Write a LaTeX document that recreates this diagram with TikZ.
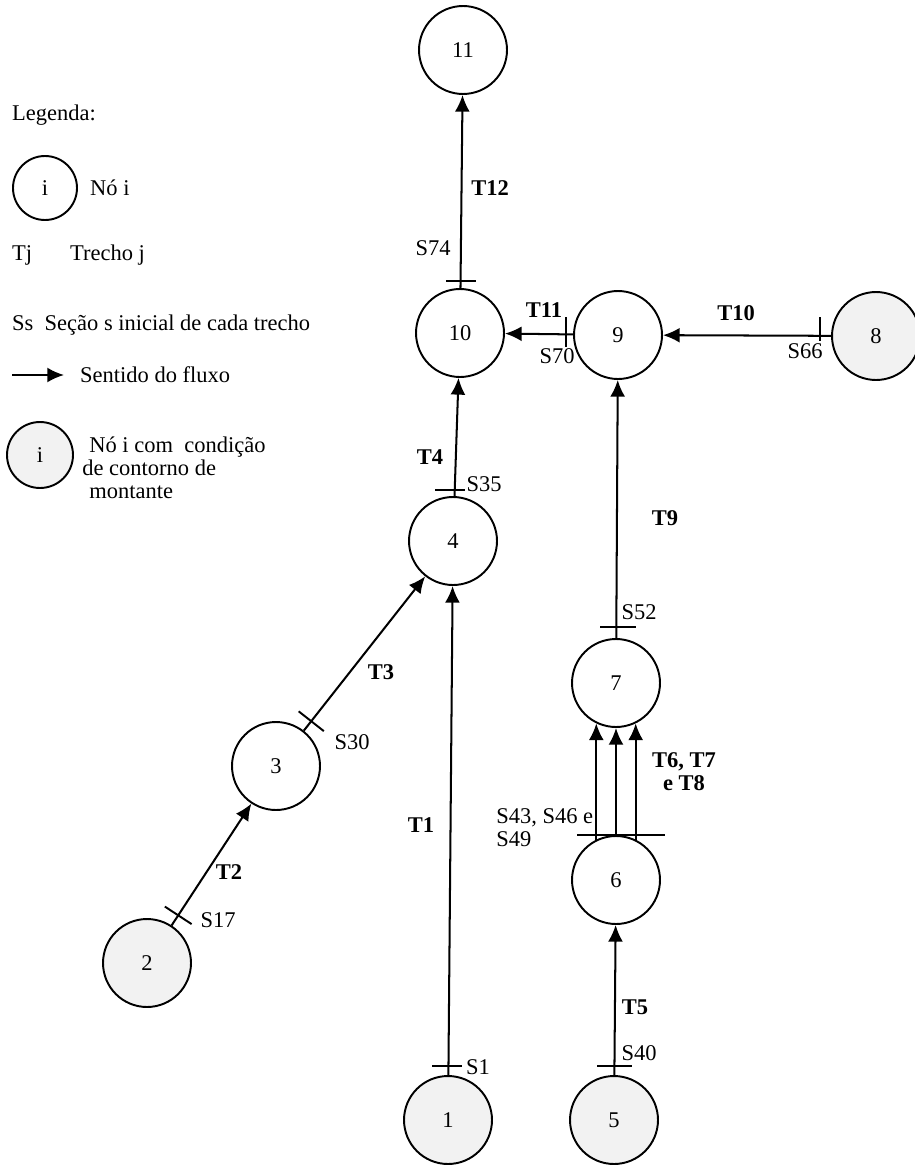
\documentclass[tikz,border=0pt]{standalone}
\usepackage{fontspec}
\setmainfont{Liberation Serif}
\usetikzlibrary{arrows.meta,calc}
\begin{document}
\begin{tikzpicture}[x=0.02cm,y=-0.02cm,
  every node/.style={font=\fontsize{12.8}{14}\selectfont},
  nd/.style={circle,draw,line width=1.1pt,minimum size=1.76cm,inner sep=0pt},
  bnd/.style={nd,fill=black!5},
  flow/.style={line width=1.15pt,-{Latex[length=9.5pt,width=8.5pt]}},
  sec/.style={line width=1.1pt},
  lbl/.style={font=\fontsize{12.8}{14}\selectfont\bfseries},
  ]
\useasboundingbox (0,0) rectangle (915,1166);

% ---------- legend ----------
\node[anchor=west] (leg) at (6,115) {Legenda:};
\node[nd,minimum size=1.28cm] (li) at (45,188) {i};
\node[anchor=west] (lnoi) at (84,188) {Nó i};
\node[anchor=west] (ltj) at (6,255) {Tj};
\node[anchor=west] (ltrecho) at (64,255) {Trecho j};
\node[anchor=west] (lss) at (6,325) {Ss\ \ Seção s inicial de cada trecho};
\coordinate (la1) at (12,375);
\coordinate (la2) at (64,375);
\draw[flow] (la1) -- (la2);
\node[anchor=west] (lsent) at (74,375) {Sentido do fluxo};
\node[bnd,minimum size=1.32cm] (lb) at (40,455) {i};
\node[anchor=north west,align=left,inner sep=0pt,
      font=\fontsize{12.8}{13}\selectfont] (lb1) at (82,437)
  {\hspace{4pt}Nó i com\ \ condição\\de contorno de\\\hspace{4pt}montante};

% ---------- nodes ----------
\node[nd]  (n11) at (463,50)   {11};
\node[nd]  (n10) at (460,333)  {10};
\node[nd]  (n9)  at (618,335)  {9};
\node[bnd] (n8)  at (876,336)  {8};
\node[nd]  (n4)  at (453,541)  {4};
\node[nd]  (n7)  at (616,683)  {7};
\node[nd]  (n3)  at (276,766)  {3};
\node[nd]  (n6)  at (616,880)  {6};
\node[bnd] (n2)  at (147,963)  {2};
\node[bnd] (n1)  at (448,1120) {1};
\node[bnd] (n5)  at (614,1120) {5};

% ---------- reaches ----------
\draw[flow] (n10) -- (n11);
\draw[flow] (n9) -- (n10);
\draw[flow] (n8) -- (n9);
\draw[flow] (n4) -- (n10);
\draw[flow] (n7) -- (n9);
\draw[flow] (n3) -- (n4);
\draw[flow] (n2) -- (n3);
\draw[flow] (n1) -- (n4);
\draw[flow] (n5) -- (n6);
\draw[flow] (n6.116) -- (n7.-116);
\draw[flow] (n6.north) -- (n7.south);
\draw[flow] (n6.64) -- (n7.-64);

% ---------- initial sections ----------
\draw[sec] ($(n10.north)+(-14,-7)$) -- ($(n10.north)+(16,-7)$);
\draw[sec] ($(n9.west)+(-7,-18)$) -- ($(n9.west)+(-7,12)$);
\draw[sec] ($(n8.west)+(-11,-19)$) -- ($(n8.west)+(-11,5)$);
\draw[sec] ($(n4.north)+(-18,-6)$) -- ($(n4.north)+(12,-6)$);
\draw[sec] ($(n7.north)+(-16,-11)$) -- ($(n7.north)+(20,-11)$);
\draw[sec] ($(n6.north)+(-39,0)$) -- ($(n6.north)+(49,0)$);
\draw[sec] ($(n1.north)+(-16,-9)$) -- ($(n1.north)+(14,-9)$);
\draw[sec] ($(n5.north)+(-17,-9)$) -- ($(n5.north)+(18,-9)$);
\coordinate (t17) at ($(n2)!1.14cm!(n3)$);
\draw[sec] ($(t17)!0.32cm!90:(n3)$) -- ($(t17)!0.32cm!-90:(n3)$);
\coordinate (t30) at ($(n3)!1.14cm!(n4)$);
\draw[sec] ($(t30)!0.32cm!90:(n4)$) -- ($(t30)!0.32cm!-90:(n4)$);

% ---------- labels ----------
\node[lbl] (lT12) at (490,188) {T12};
\node (lS74) at (433,248) {S74};
\node[lbl] (lT11) at (544,310) {T11};
\node (lS70) at (557,356) {S70};
\node[lbl] (lT10) at (736,313) {T10};
\node (lS66) at (805,351) {S66};
\node[lbl] (lT4) at (430,457) {T4};
\node (lS35) at (484,484) {S35};
\node[lbl] (lT9) at (665,518) {T9};
\node (lS52) at (639,612) {S52};
\node[lbl] (lT3) at (381,672) {T3};
\node (lS30) at (352,742) {S30};
\node[lbl,align=center,font=\fontsize{12.8}{13}\selectfont\bfseries] (lT678) at (684,772) {T6, T7\\e T8};
\node[anchor=north west,align=left,inner sep=0pt,
      font=\fontsize{12.8}{13}\selectfont] (lS43) at (496,808) {S43, S46 e\\S49};
\node[lbl] (lT1) at (421,825) {T1};
\node[lbl] (lT2) at (229,872) {T2};
\node (lS17) at (218,920) {S17};
\node[lbl] (lT5) at (635,1007) {T5};
\node (lS40) at (639,1053) {S40};
\node (lS1) at (478,1067) {S1};
\end{tikzpicture}
\end{document}
